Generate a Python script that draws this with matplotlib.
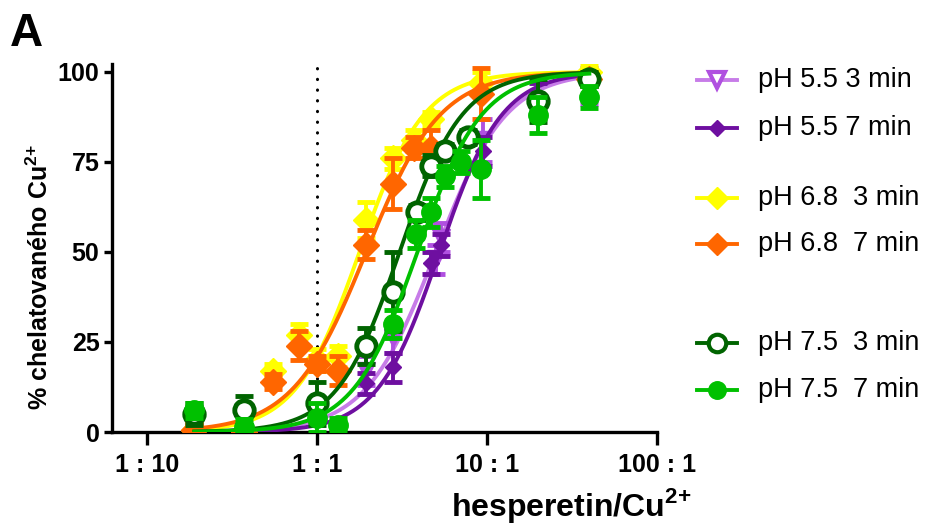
import numpy as np
import matplotlib
matplotlib.use("Agg")
from matplotlib import pyplot as plt
from matplotlib.lines import Line2D

plt.rcParams['font.family'] = ['Liberation Sans', 'DejaVu Sans']
plt.rcParams['mathtext.fontset'] = 'custom'
plt.rcParams['mathtext.rm'] = 'Liberation Sans'
plt.rcParams['mathtext.bf'] = 'Liberation Sans:bold'

# ratio hesperetin/Cu2+ and % chelated Cu2+ (mean, SD)
x_55_3 = [0.19, 1.94, 2.8, 5.0, 5.4, 9.5, 40]
y_55_3 = [0, 17, 26, 48, 54, 81, 96]
e_55_3 = [7, 4, 4, 4, 4, 6, 5]

x_55_7 = [0.19, 1.94, 2.8, 4.7, 5.4, 9.5, 20, 40]
y_55_7 = [0.5, 13.5, 18, 47, 52, 78, 93, 98]
e_55_7 = [2, 3, 4, 3, 3, 4, 4, 2]

x_68_3 = [0.19, 0.55, 0.78, 1.0, 1.33, 1.94, 2.8, 3.7, 4.7, 9.2, 40]
y_68_3 = [0.5, 17, 27, 20, 21, 59, 76, 81, 87, 97, 100]
e_68_3 = [2, 2, 3, 3, 3, 5, 3, 3, 2, 3, 2]

x_68_7 = [0.19, 0.37, 0.55, 0.78, 1.0, 1.33, 1.94, 2.8, 3.7, 4.7, 9.2, 40]
y_68_7 = [0.5, 0, 14, 24, 19, 17, 52, 69, 79, 79, 94, 98]
e_68_7 = [2, 1, 2, 4, 2, 4, 4, 7, 3, 5, 7, 2]

x_75_3 = [0.19, 0.37, 1.0, 1.94, 2.8, 3.9, 4.7, 5.7, 7.7, 20, 40]
y_75_3 = [5, 6, 8, 24, 39, 61, 74, 78, 82, 92, 98]
e_75_3 = [3, 4, 6, 5, 11, 2, 3, 2, 2, 6, 2]

x_75_7 = [0.19, 0.37, 1.0, 1.33, 2.8, 3.8, 4.7, 5.7, 7.0, 9.2, 20, 40]
y_75_7 = [6, 1.5, 4, 2, 30, 55, 61, 71, 75, 73, 88, 93]
e_75_7 = [2, 2, 4, 2, 4, 4, 4, 3, 3, 8, 5, 3]

# fitted dose-response curves: EC50 and Hill slope
ec50 = [5.0, 5.26, 1.78, 1.95, 3.06, 3.9]
hill = [2.1, 2.37, 2.3, 2.0, 2.36, 2.3]

labels = ['pH 5.5 3 min', 'pH 5.5 7 min', 'pH 6.8  3 min',
          'pH 6.8  7 min', 'pH 7.5  3 min', 'pH 7.5  7 min']
colors = ['#C77CE8', '#6E0FA0', '#FFFF00', '#FF6600', '#006400', '#00C000']
edges = ['#B050E0', '#6E0FA0', '#FFFF00', '#FF6600', '#006400', '#00C000']
markers = ['v', 'D', 'D', 'D', 'o', 'o']
msizes = [13, 8.5, 13, 13, 14, 14]
faces = ['#B050E0', '#6E0FA0', '#FFFF00', '#FF6600', 'white', '#00C000']

series = [(x_55_3, y_55_3, e_55_3), (x_55_7, y_55_7, e_55_7),
          (x_68_3, y_68_3, e_68_3), (x_68_7, y_68_7, e_68_7),
          (x_75_3, y_75_3, e_75_3), (x_75_7, y_75_7, e_75_7)]

fig = plt.figure(figsize=(9.41, 5.25), dpi=100)
ax = fig.add_axes([112 / 941, 93 / 525, 545 / 941, 368 / 525])

ax.axvline(1, color='black', lw=2.2, ls=(0, (0.1, 3.4)), dash_capstyle='round', zorder=1)

order = [2, 3, 0, 1, 4, 5]
for i in order:
    xs, ys, es = series[i]
    xc = np.logspace(np.log10(min(xs)), np.log10(max(xs)), 300)
    yc = 100 / (1 + (ec50[i] / xc) ** hill[i])
    ax.plot(xc, yc, color=colors[i], lw=2.8, zorder=2 + i)
    ax.errorbar(xs, ys, yerr=es, fmt='none', ecolor=edges[i],
                elinewidth=2.8, capsize=6.5, capthick=3.5, zorder=2 + i)
    ax.plot(xs, ys, ls='none', marker=markers[i], ms=msizes[i],
            mfc=faces[i], mec=edges[i],
            mew=3.5 if i == 4 else 1, zorder=2.5 + i)

ax.set_xscale('log')
ax.set_xlim(0.0623, 100)
ax.set_ylim(0, 102.2)
ax.set_xticks([0.1, 1, 10, 100])
ax.set_xticklabels(['1 : 10', '1 : 1', '10 : 1', '100 : 1'])
ax.xaxis.set_minor_locator(matplotlib.ticker.NullLocator())
ax.set_yticks([0, 25, 50, 75, 100])

for s in ['top', 'right']:
    ax.spines[s].set_visible(False)
for s in ['left', 'bottom']:
    ax.spines[s].set_linewidth(2.4)
ax.tick_params(axis='x', length=9, width=2.4, pad=6, labelsize=18)
ax.tick_params(axis='y', length=6, width=2.4, pad=3, labelsize=18)
for t in ax.get_xticklabels() + ax.get_yticklabels():
    t.set_fontweight('bold')

fig.text(40 / 941, 1 - 277 / 525, r'% chelatovaného Cu$^{\mathbf{2{+}}}$',
         rotation=90, ha='center', va='center', fontsize=18, fontweight='bold')
fig.text(691 / 941, 1 - 516 / 525, r'hesperetin/Cu$^{\mathbf{2{+}}}$',
         ha='right', va='baseline', fontsize=23, fontweight='bold')
fig.text(10 / 941, 1 - 12 / 525, 'A', ha='left', va='top', fontsize=33, fontweight='bold')

# legend, drawn by hand to keep the grouped spacing
leg_y = [80, 128, 198, 244, 343, 390]
for i in range(6):
    yy = 1 - leg_y[i] / 525
    fig.add_artist(Line2D([697 / 941, 737 / 941], [yy, yy], color=colors[i], lw=2.8,
                          transform=fig.transFigure))
    fig.add_artist(Line2D([717 / 941], [yy], ls='none', marker=markers[i],
                          ms=msizes[i] * 0.9, mfc=faces[i] if i != 0 else 'white',
                          mec=edges[i], mew=3 if i in (0, 4) else 1,
                          transform=fig.transFigure))
    fig.text(758 / 941, yy, labels[i], ha='left', va='center', fontsize=19.5)

fig.savefig('out.png', dpi=100)
